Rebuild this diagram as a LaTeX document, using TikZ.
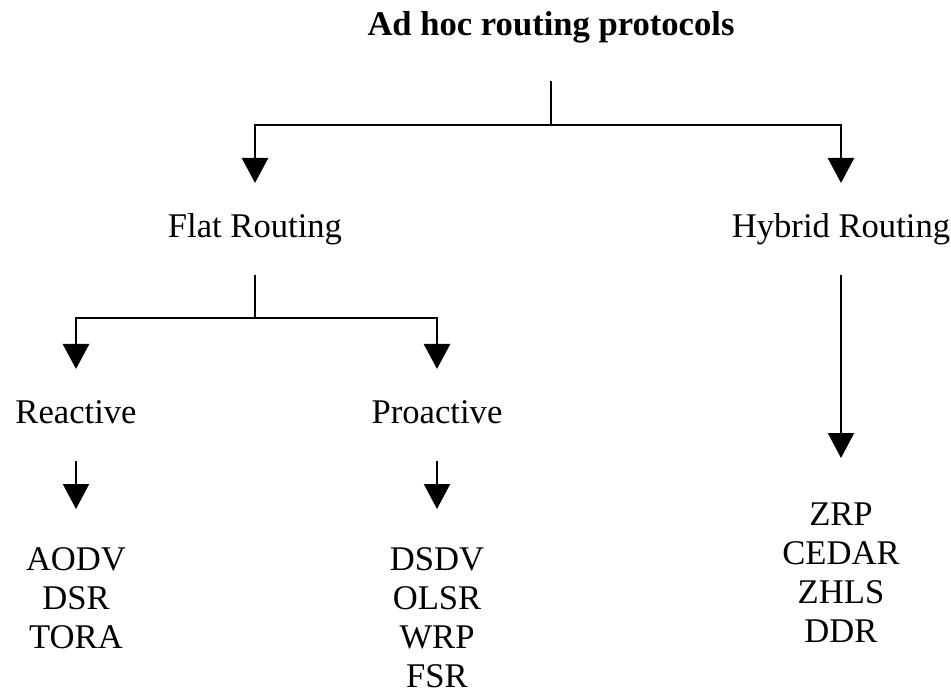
\documentclass[tikz,border=0pt]{standalone}
\usepackage{fontspec}
\setmainfont{Liberation Serif}
\usetikzlibrary{arrows.meta}
\tikzset{
  cat/.style={inner xsep=0pt, inner ysep=0.61cm, text height=13.4pt, text depth=3.9pt},
  leaf/.style={anchor=north, align=center, inner xsep=0pt, inner ysep=0.76cm},
  conn/.style={line width=1.6pt},
  arr/.style={conn, -{Triangle[length=0.5cm,width=0.52cm]}},
  arrthin/.style={arr, line width=1.2pt},
}
\begin{document}
\begin{tikzpicture}[x=0.02cm, y=-0.02cm, font=\fontsize{19.7pt}{22.2pt}\selectfont]
\useasboundingbox (0,0) rectangle (951,691);
\node[cat, inner ysep=0.76cm, font=\fontsize{19.7pt}{22.2pt}\selectfont\bfseries] (adhoc) at (551,27) {Ad hoc routing protocols};
\node[cat] (flat) at (255,229) {Flat Routing};
\node[cat] (hybrid) at (841,229) {Hybrid Routing};
\node[cat] (react) at (76,415) {Reactive};
\node[cat] (proact) at (437,415) {Proactive};
\node[leaf] (rlist) at (76,509) {AODV\\DSR\\TORA};
\node[leaf] (plist) at (437,509) {DSDV\\OLSR\\WRP\\FSR};
\node[leaf, inner ysep=0.88cm] (hlist) at (841,458) {ZRP\\CEDAR\\ZHLS\\DDR};
\coordinate (j1) at (adhoc.south |- 0,125);
\coordinate (j2) at (flat.south |- 0,318);
\draw[conn] (adhoc) -- (j1);
\draw[arr] (j1) -| (flat);
\draw[arr] (j1) -| (hybrid);
\draw[conn] (flat) -- (j2);
\draw[arr] (j2) -| (react);
\draw[arr] (j2) -| (proact);
\draw[arrthin] (react) -- (rlist);
\draw[arrthin] (proact) -- (plist);
\draw[arrthin] (hybrid) -- (hlist);
\end{tikzpicture}
\end{document}
